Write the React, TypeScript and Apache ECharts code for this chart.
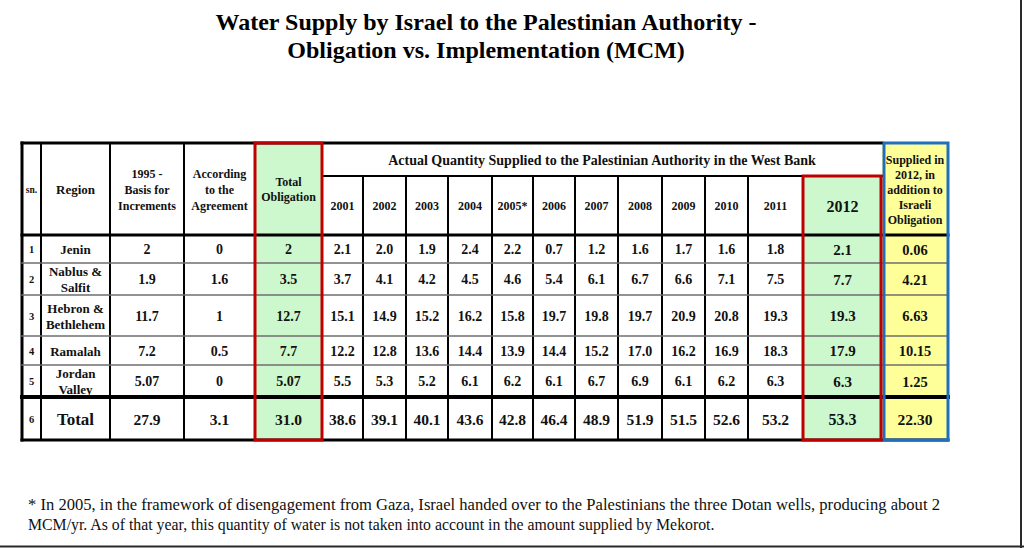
import React, { useEffect, useRef } from "react";
import * as echarts from "echarts";

// ---------------- data ----------------
const titleLines = [
  "Water Supply by Israel to the Palestinian Authority -",
  "Obligation vs. Implementation (MCM)",
];
const footnoteLines = [
  "* In 2005, in the framework of disengagement from Gaza, Israel handed over to the Palestinians the three Dotan wells, producing about 2",
  "MCM/yr. As of that year, this quantity of water is not taken into account in the amount supplied by Mekorot.",
];
const leftHeaders = ["sn.", "Region", "1995 -\nBasis for\nIncrements", "According\nto the\nAgreement", "Total\nObligation"];
const spanHeader = "Actual Quantity Supplied to the Palestinian Authority in the West Bank";
const suppliedHeader = "Supplied in\n2012, in\naddition to\nIsraeli\nObligation";
const years = ["2001", "2002", "2003", "2004", "2005*", "2006", "2007", "2008", "2009", "2010", "2011", "2012"];
const serials = ["1", "2", "3", "4", "5", "6"];
const regions = ["Jenin", "Nablus &\nSalfit", "Hebron &\nBethlehem", "Ramalah", "Jordan\nValley", "Total"];
const basis1995 = ["2", "1.9", "11.7", "7.2", "5.07", "27.9"];
const agreement = ["0", "1.6", "1", "0.5", "0", "3.1"];
const totalObligation = ["2", "3.5", "12.7", "7.7", "5.07", "31.0"];
const jenin = [2.1, 2.0, 1.9, 2.4, 2.2, 0.7, 1.2, 1.6, 1.7, 1.6, 1.8, 2.1];
const nablusSalfit = [3.7, 4.1, 4.2, 4.5, 4.6, 5.4, 6.1, 6.7, 6.6, 7.1, 7.5, 7.7];
const hebronBethlehem = [15.1, 14.9, 15.2, 16.2, 15.8, 19.7, 19.8, 19.7, 20.9, 20.8, 19.3, 19.3];
const ramalah = [12.2, 12.8, 13.6, 14.4, 13.9, 14.4, 15.2, 17.0, 16.2, 16.9, 18.3, 17.9];
const jordanValley = [5.5, 5.3, 5.2, 6.1, 6.2, 6.1, 6.7, 6.9, 6.1, 6.2, 6.3, 6.3];
const totals = [38.6, 39.1, 40.1, 43.6, 42.8, 46.4, 48.9, 51.9, 51.5, 52.6, 53.2, 53.3];
const suppliedBeyond = ["0.06", "4.21", "6.63", "10.15", "1.25", "22.30"];

// ---------------- layout (table units = px) ----------------
const colWidths = [19, 69, 74, 71, 67, 41, 43, 42, 44, 41, 42, 43, 44, 43, 43, 55, 79, 66];
const rowHeights = [33, 59, 28, 32, 41, 29, 32, 43];
const cum = (a: number[]) => a.reduce((acc: number[], w) => { acc.push(acc[acc.length - 1] + w); return acc; }, [0]);
const colEdges = cum(colWidths);
const rowEdges = cum(rowHeights);
const TABLE_W = colEdges[colEdges.length - 1];
const TABLE_H = rowEdges[rowEdges.length - 1];

const FONT = '"Liberation Serif", "Times New Roman", serif';
const GREEN = "#cdf7cd";
const YELLOW = "#ffff99";
const RED = "#c00000";
const BLUE = "#1f6fc0";
const INK = "#111111";

type Cell = { c0: number; c1: number; r0: number; r1: number; text: string; size: number; fill?: string; lh?: number };

function buildCells(): Cell[] {
  const cells: Cell[] = [];
  const hSizes = [9.5, 13, 12, 12, 12];
  const hLh = [12, 15, 16, 16, 15];
  leftHeaders.forEach((t, i) =>
    cells.push({ c0: i, c1: i + 1, r0: 0, r1: 2, text: t, size: hSizes[i], lh: hLh[i], fill: i === 4 ? GREEN : undefined })
  );
  cells.push({ c0: 5, c1: 17, r0: 0, r1: 1, text: spanHeader, size: 14 });
  years.forEach((y, i) => {
    const last = i === years.length - 1;
    cells.push({ c0: 5 + i, c1: 6 + i, r0: 1, r1: 2, text: y, size: last ? 16 : 12, fill: last ? GREEN : undefined });
  });
  cells.push({ c0: 17, c1: 18, r0: 0, r1: 2, text: suppliedHeader, size: 12, lh: 15, fill: YELLOW });
  const series = [jenin, nablusSalfit, hebronBethlehem, ramalah, jordanValley, totals];
  for (let r = 0; r < 6; r++) {
    const isTotal = r === 5;
    const v = isTotal ? 15.5 : 14;
    const row = 2 + r;
    cells.push({ c0: 0, c1: 1, r0: row, r1: row + 1, text: serials[r], size: 10.5 });
    cells.push({ c0: 1, c1: 2, r0: row, r1: row + 1, text: regions[r], size: isTotal ? 17 : 13, lh: 16 });
    cells.push({ c0: 2, c1: 3, r0: row, r1: row + 1, text: basis1995[r], size: v });
    cells.push({ c0: 3, c1: 4, r0: row, r1: row + 1, text: agreement[r], size: v });
    cells.push({ c0: 4, c1: 5, r0: row, r1: row + 1, text: totalObligation[r], size: v, fill: GREEN });
    series[r].forEach((val, i) => {
      const last = i === years.length - 1;
      cells.push({
        c0: 5 + i, c1: 6 + i, r0: row, r1: row + 1, text: val.toFixed(1),
        size: last ? (isTotal ? 16 : 15) : v, fill: last ? GREEN : undefined,
      });
    });
    cells.push({ c0: 17, c1: 18, r0: row, r1: row + 1, text: suppliedBeyond[r], size: isTotal ? 15.5 : 14.5, fill: YELLOW });
  }
  return cells;
}

type Rule = { c0: number; c1: number; r0: number; r1: number; color: string; width: number; box?: boolean; shift?: number };

function buildRules(): Rule[] {
  const rules: Rule[] = [];
  const black = "#000000";
  const gray = "#6e6e6e";
  [1, 2, 3].forEach((c) => rules.push({ c0: c, c1: c, r0: 0, r1: 8, color: black, width: 2 }));
  for (let c = 6; c <= 15; c++) rules.push({ c0: c, c1: c, r0: 1, r1: 8, color: black, width: 2 });
  rules.push({ c0: 0, c1: 0, r0: 0, r1: 8, color: black, width: 3 });
  rules.push({ c0: 5, c1: 17, r0: 1, r1: 1, color: black, width: 2 });
  [3, 4, 5, 6].forEach((r) => rules.push({ c0: 0, c1: 18, r0: r, r1: r, color: gray, width: 1.5 }));
  rules.push({ c0: 0, c1: 18, r0: 2, r1: 2, color: black, width: 3 });
  rules.push({ c0: 0, c1: 18, r0: 7, r1: 7, color: black, width: 4 });
  rules.push({ c0: 0, c1: 18, r0: 8, r1: 8, color: black, width: 3 });
  rules.push({ c0: 0, c1: 17, r0: 0, r1: 0, color: black, width: 3 });
  rules.push({ c0: 17, c1: 18, r0: 0, r1: 8, color: BLUE, width: 3, box: true, shift: 2 });
  rules.push({ c0: 4, c1: 5, r0: 0, r1: 8, color: RED, width: 3, box: true });
  rules.push({ c0: 16, c1: 17, r0: 1, r1: 8, color: RED, width: 3, box: true, shift: -1 });
  return rules;
}

export default function App() {
  const ref = useRef<HTMLDivElement>(null);
  useEffect(() => {
    if (!ref.current) return;
    const chart = echarts.init(ref.current, undefined, { renderer: "svg" });
    const cells = buildCells();
    const rules = buildRules();

    const option: any = {
      animation: false,
      backgroundColor: "#ffffff",
      grid: { left: 22, top: 143, width: TABLE_W, height: TABLE_H, containLabel: false },
      xAxis: { type: "value", min: 0, max: TABLE_W, show: false },
      yAxis: { type: "value", min: 0, max: TABLE_H, inverse: true, show: false },
      graphic: [
        ...titleLines.map((t, i) => ({
          type: "text", x: 486, y: 22 + i * 28, silent: true,
          style: { text: t, fontSize: 24, fontWeight: "bold", fontFamily: FONT, fill: "#000", align: "center", verticalAlign: "middle" },
        })),
        ...footnoteLines.map((t, i) => ({
          type: "text", x: 28, y: 505 + i * 19, silent: true, scaleX: i === 0 ? 1.05 : 1,
          style: { text: t, fontSize: 15.8, fontFamily: FONT, fill: INK, align: "left", verticalAlign: "middle" },
        })),
        { type: "line", silent: true, shape: { x1: 1021, y1: 0, x2: 1021, y2: 548 }, style: { stroke: "#2a2a2a", lineWidth: 2 } },
        { type: "line", silent: true, shape: { x1: 0, y1: 546.5, x2: 1024, y2: 546.5 }, style: { stroke: "#2a2a2a", lineWidth: 2 } },
      ],
      series: [
        {
          type: "custom",
          name: "cells",
          coordinateSystem: "cartesian2d",
          silent: true,
          data: cells.map((c) => [colEdges[c.c0], rowEdges[c.r0], colEdges[c.c1], rowEdges[c.r1]]),
          renderItem: (params: any, api: any) => {
            const cell = cells[params.dataIndex];
            const p0 = api.coord([api.value(0), api.value(1)]);
            const p1 = api.coord([api.value(2), api.value(3)]);
            const children: any[] = [];
            if (cell.fill) {
              children.push({
                type: "rect",
                shape: { x: p0[0], y: p0[1], width: p1[0] - p0[0], height: p1[1] - p0[1] },
                style: { fill: cell.fill },
              });
            }
            children.push({
              type: "text",
              x: (p0[0] + p1[0]) / 2,
              y: (p0[1] + p1[1]) / 2 + 0.5,
              style: {
                text: cell.text, fontSize: cell.size, fontWeight: "bold", fontFamily: FONT, fill: INK,
                align: "center", verticalAlign: "middle", lineHeight: cell.lh || Math.round(cell.size * 1.15),
              },
            });
            return { type: "group", children };
          },
        },
        {
          type: "custom",
          name: "rules",
          coordinateSystem: "cartesian2d",
          silent: true,
          data: rules.map((r) => [colEdges[r.c0], rowEdges[r.r0], colEdges[r.c1], rowEdges[r.r1]]),
          renderItem: (params: any, api: any) => {
            const r = rules[params.dataIndex];
            const p0 = api.coord([api.value(0), api.value(1)]);
            const p1 = api.coord([api.value(2), api.value(3)]);
            if (r.box) {
              const s = r.shift || 0;
              const x0 = p0[0] + (s > 0 ? s : 0);
              const x1 = p1[0] + (s < 0 ? s : 0);
              return {
                type: "rect",
                shape: { x: x0, y: p0[1], width: x1 - x0, height: p1[1] - p0[1] },
                style: { fill: "none", stroke: r.color, lineWidth: r.width },
              };
            }
            return {
              type: "line",
              shape: { x1: p0[0], y1: p0[1], x2: p1[0], y2: p1[1] },
              style: { stroke: r.color, lineWidth: r.width, lineCap: "square" },
            };
          },
        },
      ],
    };
    chart.setOption(option);
    return () => chart.dispose();
  }, []);

  return <div ref={ref} style={{ position: "absolute", left: 0, top: 0, width: 1024, height: 548 }} />;
}
